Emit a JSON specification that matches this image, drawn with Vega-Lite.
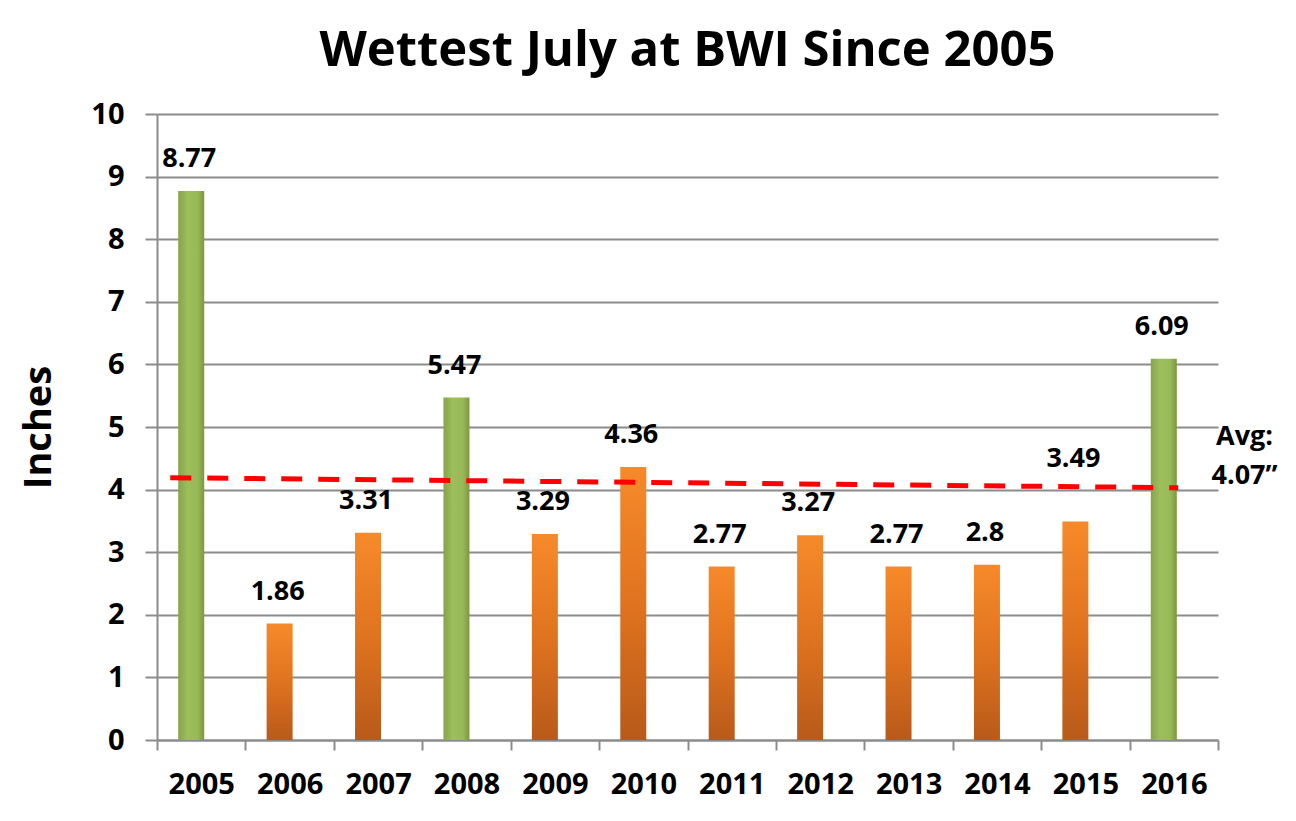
{
  "$schema": "https://vega.github.io/schema/vega-lite/v6.json",
  "autosize": "none",
  "width": 1061,
  "height": 626,
  "padding": {"left": 157, "top": 114, "right": 78, "bottom": 81},
  "background": "white",
  "config": {
    "font": "Open Sans",
    "view": {"stroke": null}
  },
  "title": {
    "text": "Wettest July at BWI Since 2005",
    "font": "Open Sans",
    "fontSize": 49,
    "fontWeight": "bold",
    "color": "#000000",
    "anchor": "middle",
    "baseline": "alphabetic",
    "offset": -15
  },
  "datasets": {
    "rain": [
      {"year": "2005", "inches": 8.77, "group": "wet"},
      {"year": "2006", "inches": 1.86, "group": "dry"},
      {"year": "2007", "inches": 3.31, "group": "dry"},
      {"year": "2008", "inches": 5.47, "group": "wet"},
      {"year": "2009", "inches": 3.29, "group": "dry"},
      {"year": "2010", "inches": 4.36, "group": "dry"},
      {"year": "2011", "inches": 2.77, "group": "dry"},
      {"year": "2012", "inches": 3.27, "group": "dry"},
      {"year": "2013", "inches": 2.77, "group": "dry"},
      {"year": "2014", "inches": 2.8, "group": "dry"},
      {"year": "2015", "inches": 3.49, "group": "dry"},
      {"year": "2016", "inches": 6.09, "group": "wet"}
    ],
    "avgline": [
      {"pos": 0.15, "inches": 4.19},
      {"pos": 11.55, "inches": 4.03}
    ],
    "avglabel": [
      {"pos": 12.3, "inches": 4.84, "label": "Avg:"},
      {"pos": 12.3, "inches": 4.22, "label": "4.07\u201d"}
    ]
  },
  "layer": [
    {
      "data": {"name": "rain"},
      "encoding": {
        "x": {
          "field": "year", "type": "ordinal",
          "scale": {"domain": ["2005","2006","2007","2008","2009","2010","2011","2012","2013","2014","2015","2016"], "paddingInner": 0, "paddingOuter": 0},
          "axis": {
            "title": null,
            "labelAngle": 0,
            "labelFont": "Open Sans",
            "labelFontSize": 29,
            "labelFontWeight": "bold",
            "labelColor": "#000000",
            "labelPadding": 20,
            "domainColor": "#8C8C8C",
            "domainWidth": 2,
            "tickColor": "#8C8C8C",
            "tickWidth": 2,
            "tickSize": 10,
            "tickBand": "extent",
            "grid": false
          }
        },
        "y": {
          "field": "inches", "type": "quantitative",
          "scale": {"domain": [0, 10], "nice": false},
          "axis": {
            "title": "Inches",
            "titleFont": "Open Sans",
            "titleFontSize": 38,
            "titleFontWeight": "bold",
            "titleColor": "#000000",
            "titlePadding": 32,
            "values": [0,1,2,3,4,5,6,7,8,9,10],
            "format": "d",
            "labelFont": "Open Sans",
            "labelFontSize": 29,
            "labelFontWeight": "bold",
            "labelColor": "#000000",
            "labelPadding": 21,
            "domainColor": "#8C8C8C",
            "domainWidth": 2,
            "tickColor": "#8C8C8C",
            "tickWidth": 2,
            "tickSize": 12,
            "grid": true,
            "gridColor": "#8C8C8C",
            "gridWidth": 2
          }
        }
      },
      "layer": [
        {
          "transform": [{"filter": "datum.group === 'wet'"}],
          "mark": {
            "type": "bar",
            "size": 26,
            "xOffset": -10,
            "color": {
              "gradient": "linear",
              "x1": 0, "y1": 0, "x2": 1, "y2": 0,
              "stops": [
                {"offset": 0, "color": "#86A34A"},
                {"offset": 0.35, "color": "#9DBE5B"},
                {"offset": 0.75, "color": "#98B957"},
                {"offset": 1, "color": "#7A9740"}
              ]
            }
          }
        },
        {
          "transform": [{"filter": "datum.group === 'dry'"}],
          "mark": {
            "type": "bar",
            "size": 26,
            "xOffset": -10,
            "color": {
              "gradient": "linear",
              "x1": 0, "y1": 0, "x2": 0, "y2": 1,
              "stops": [
                {"offset": 0, "color": "#F68A2A"},
                {"offset": 0.5, "color": "#E0731F"},
                {"offset": 1, "color": "#B85A1A"}
              ]
            }
          }
        },
        {
          "transform": [{"filter": "datum.year !== '2015'"}],
          "mark": {
            "type": "text",
            "font": "Open Sans",
            "fontSize": 27,
            "fontWeight": "bold",
            "color": "#000000",
            "baseline": "alphabetic",
            "dx": -12,
            "dy": -24
          },
          "encoding": {
            "text": {"field": "inches", "type": "quantitative"}
          }
        },
        {
          "transform": [{"filter": "datum.year === '2015'"}],
          "mark": {
            "type": "text",
            "font": "Open Sans",
            "fontSize": 27,
            "fontWeight": "bold",
            "color": "#000000",
            "baseline": "alphabetic",
            "dx": -12,
            "dy": -55
          },
          "encoding": {
            "text": {"field": "inches", "type": "quantitative"}
          }
        }
      ]
    },
    {
      "data": {"name": "avgline"},
      "mark": {
        "type": "line",
        "color": "#FF0000",
        "strokeWidth": 5,
        "strokeDash": [21, 16]
      },
      "encoding": {
        "x": {"field": "pos", "type": "quantitative", "scale": {"domain": [0, 12], "nice": false}, "axis": null},
        "y": {"field": "inches", "type": "quantitative"}
      }
    },
    {
      "data": {"name": "avglabel"},
      "mark": {
        "type": "text",
        "font": "Open Sans",
        "fontSize": 27,
        "fontWeight": "bold",
        "color": "#000000",
        "align": "center",
        "baseline": "middle"
      },
      "encoding": {
        "x": {"field": "pos", "type": "quantitative", "scale": {"domain": [0, 12], "nice": false}, "axis": null},
        "y": {"field": "inches", "type": "quantitative"},
        "text": {"field": "label"}
      }
    }
  ],
  "resolve": {"scale": {"x": "independent"}}
}
